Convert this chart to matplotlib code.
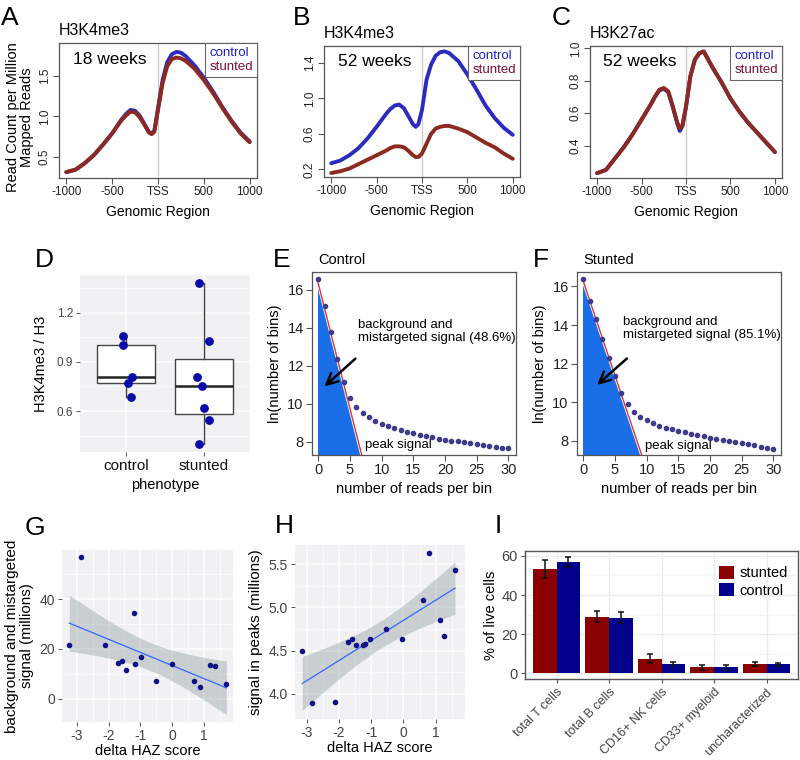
import numpy as np
import matplotlib
matplotlib.use("Agg")
import matplotlib.pyplot as plt
from matplotlib.lines import Line2D

plt.rcParams['font.family'] = ['Liberation Sans', 'DejaVu Sans']

# ---------------- data ----------------
# A-C: average profiles around the TSS
pos = [-1000, -900, -800, -700, -600, -500, -400, -350, -300, -250, -200, -150, -100, -70, -40,
       0, 50, 100, 150, 200, 250, 300, 400, 500, 600, 700, 800, 900, 1000]

a_control = [0.31, 0.34, 0.42, 0.52, 0.65, 0.79, 0.96, 1.03, 1.08, 1.07, 1.01, 0.91, 0.81, 0.79, 0.82,
             1.10, 1.45, 1.67, 1.77, 1.80, 1.79, 1.75, 1.63, 1.48, 1.31, 1.12, 0.95, 0.80, 0.69]
a_stunted = [0.31, 0.34, 0.42, 0.52, 0.65, 0.79, 0.95, 1.01, 1.06, 1.05, 0.99, 0.90, 0.80, 0.78, 0.81,
             1.08, 1.41, 1.62, 1.71, 1.73, 1.72, 1.69, 1.59, 1.45, 1.29, 1.11, 0.94, 0.79, 0.68]

b_control = [0.27, 0.30, 0.36, 0.44, 0.55, 0.68, 0.82, 0.88, 0.92, 0.93, 0.89, 0.80, 0.71, 0.68, 0.71,
             0.87, 1.21, 1.38, 1.48, 1.52, 1.53, 1.51, 1.42, 1.27, 1.10, 0.92, 0.78, 0.67, 0.59]
b_stunted = [0.16, 0.18, 0.21, 0.26, 0.31, 0.36, 0.41, 0.44, 0.46, 0.46, 0.45, 0.41, 0.36, 0.34, 0.34,
             0.38, 0.49, 0.60, 0.66, 0.68, 0.69, 0.69, 0.66, 0.62, 0.56, 0.50, 0.45, 0.38, 0.32]

c_control = [0.23, 0.25, 0.32, 0.39, 0.47, 0.56, 0.65, 0.70, 0.74, 0.75, 0.73, 0.64, 0.54, 0.49, 0.52,
             0.64, 0.83, 0.93, 0.97, 0.98, 0.93, 0.88, 0.79, 0.69, 0.61, 0.54, 0.48, 0.42, 0.36]
c_stunted = [0.23, 0.25, 0.32, 0.39, 0.47, 0.56, 0.65, 0.70, 0.745, 0.755, 0.735, 0.645, 0.545, 0.505, 0.525,
             0.64, 0.83, 0.93, 0.97, 0.98, 0.93, 0.88, 0.79, 0.69, 0.61, 0.54, 0.48, 0.42, 0.36]

# D: H3K4me3 / H3 per sample
phenotypes = ['control', 'stunted']
d_control = [1.057, 1.00, 0.81, 0.77, 0.685]
d_control_jit = [-0.043, -0.043, 0.077, 0.017, 0.06]
d_stunted = [1.384, 1.029, 0.808, 0.753, 0.62, 0.545, 0.40]
d_stunted_jit = [-0.064, 0.072, -0.082, -0.018, 0.004, 0.068, -0.064]

# E-F: ln(number of bins) vs reads per bin
reads = list(range(31))
e_lnbins = [16.56, 15.16, 13.76, 12.37, 11.13, 10.28, 9.81, 9.53, 9.28, 9.09, 8.95, 8.83, 8.70,
            8.62, 8.53, 8.44, 8.37, 8.30, 8.23, 8.16, 8.11, 8.05, 8.02, 7.98, 7.95, 7.89, 7.84,
            7.79, 7.74, 7.67, 7.68]
f_lnbins = [16.40, 15.26, 14.31, 13.28, 12.28, 11.36, 10.48, 9.89, 9.49, 9.25, 9.06, 8.92, 8.78,
            8.68, 8.59, 8.50, 8.44, 8.35, 8.28, 8.23, 8.16, 8.09, 8.04, 7.98, 7.95, 7.88, 7.83,
            7.76, 7.69, 7.62, 7.58]
e_fit = (16.31, -1.316)   # intercept, slope of background line
f_fit = (16.26, -0.977)

# G-H: signal vs delta HAZ
g_haz = [-2.875, -3.24, -2.12, -1.72, -1.58, -1.45, -1.21, -1.17, -0.98, -0.50, 0.0, 0.69, 0.87,
         1.21, 1.36, 1.71]
g_bg = [56.8, 21.4, 21.7, 14.5, 15.0, 11.3, 34.5, 14.1, 16.6, 7.0, 13.8, 7.1, 4.6, 13.7, 12.9, 5.8]
h_haz = [-3.135, -2.83, -2.11, -1.72, -1.60, -1.46, -1.25, -1.18, -1.02, -0.55, -0.05, 0.62, 0.80,
         1.13, 1.25, 1.60]
h_peak = [4.49, 3.89, 3.91, 4.60, 4.63, 4.57, 4.57, 4.575, 4.63, 4.75, 4.63, 5.09, 5.63, 4.85,
          4.67, 5.43]

# I: cell composition
cell_types = ['total T cells', 'total B cells', 'CD16+ NK cells', 'CD33+ myeloid', 'uncharacterized']
i_stunted = [53.1, 29.0, 7.6, 3.2, 4.9]
i_stunted_err = [4.6, 3.0, 2.4, 1.3, 0.9]
i_control = [56.9, 28.5, 4.8, 3.2, 4.6]
i_control_err = [2.7, 3.0, 1.0, 1.2, 0.95]

# ---------------- layout helpers ----------------
W, H = 800, 760
fig = plt.figure(figsize=(8, 7.6), dpi=100)


def add_ax(x0, y0, x1, y1):
    return fig.add_axes([x0 / W, 1 - y1 / H, (x1 - x0) / W, (y1 - y0) / H])


def letter(x, y, s):
    fig.text(x / W, 1 - y / H, s, fontsize=19, va='baseline', ha='left')


def r_style(ax, size=8.5):
    for s in ax.spines.values():
        s.set_color('#555555')
        s.set_linewidth(0.9)
    ax.tick_params(direction='out', length=4, width=0.8, color='#555555',
                   labelsize=size, labelcolor='#222222', pad=2)


def gg_style(ax, size=8.5):
    ax.set_facecolor('#F1F1F4')
    for s in ax.spines.values():
        s.set_visible(False)
    ax.grid(True, which='major', color='white', lw=1.1)
    ax.grid(True, which='minor', color='white', lw=0.5)
    ax.set_axisbelow(True)
    ax.tick_params(which='major', direction='out', length=3, width=0.7, color='#555555',
                   labelsize=size, labelcolor='#444444', pad=2)
    ax.tick_params(which='minor', length=0)


BLUE = '#2b2bc0'
RED = '#8c2a20'

# ---------------- A-C ----------------
profiles = [
    ((59, 43, 257, 178), a_control, a_stunted, 'H3K4me3', '18 weeks', (0.237, 1.91), [0.5, 1.0, 1.5]),
    ((324, 46, 520, 177), b_control, b_stunted, 'H3K4me3', '52 weeks', (0.115, 1.59), [0.2, 0.6, 1.0, 1.4]),
    ((590, 46, 782, 178), c_control, c_stunted, 'H3K27ac', '52 weeks', (0.20, 1.014), [0.4, 0.6, 0.8, 1.0]),
]
for rect, ctl, stn, title, weeks, ylim, yt in profiles:
    ax = add_ax(*rect)
    r_style(ax)
    ax.axvline(0, color='#cccccc', lw=0.9, zorder=1)
    ax.plot(pos, ctl, color=BLUE, lw=2.8, solid_capstyle='round', solid_joinstyle='round', zorder=2)
    ax.plot(pos, stn, color=RED, lw=2.8, solid_capstyle='round', solid_joinstyle='round', zorder=3)
    ax.set_xlim(-1080, 1080)
    ax.set_ylim(*ylim)
    ax.set_xticks([-1000, -500, 0, 500, 1000])
    ax.set_xticklabels(['-1000', '-500', 'TSS', '500', '1000'])
    ax.set_yticks(yt)
    ax.set_yticklabels([f'{v:.1f}' for v in yt], rotation=90, va='center')
    ax.set_xlabel('Genomic Region', fontsize=10, labelpad=5)
    ax.text(0.0, 1.04, title, transform=ax.transAxes, fontsize=11.5, ha='left', va='bottom')
    ax.text(0.07, 0.88, weeks, transform=ax.transAxes, fontsize=12.5, ha='left', va='center')
    handles = [Line2D([], [], color='none'), Line2D([], [], color='none')]
    leg = ax.legend(handles, ['control', 'stunted'], loc='upper right', borderaxespad=0,
                    handlelength=0, handletextpad=0, fontsize=9.5, fancybox=False,
                    edgecolor='#666666', framealpha=1, borderpad=0.3, labelspacing=0.15,
                    labelcolor=['#2020c0', '#7a1030'])
    leg.get_frame().set_linewidth(0.8)

fig.text(20 / W, 1 - 117 / H, 'Read Count per Million\nMapped Reads', rotation=90,
         ha='center', va='center', fontsize=10.5, linespacing=1.05)
letter(1, 25, 'A')
letter(293, 25, 'B')
letter(552, 25, 'C')

# ---------------- D ----------------
axD = add_ax(80, 275, 250, 452)
gg_style(axD)
axD.boxplot([d_control, d_stunted], positions=[1, 2], widths=0.75, patch_artist=True,
            showcaps=False, showfliers=False,
            boxprops=dict(facecolor='white', edgecolor='#444444', lw=1.0),
            medianprops=dict(color='#222222', lw=1.8),
            whiskerprops=dict(color='#444444', lw=1.0), zorder=2)
axD.scatter(1 + np.array(d_control_jit), d_control, s=28, color='#0a0aa8', zorder=3)
axD.scatter(2 + np.array(d_stunted_jit), d_stunted, s=28, color='#0a0aa8', zorder=3)
axD.set_xlim(0.4, 2.6)
axD.set_ylim(0.35, 1.43)
axD.set_yticks([0.6, 0.9, 1.2])
axD.set_yticklabels(['0.6', '0.9', '1.2'])
axD.set_yticks([0.45, 0.75, 1.05, 1.35], minor=True)
axD.set_xticks([1, 2])
axD.set_xticklabels(phenotypes, fontsize=11, color='#111111')
axD.set_xlabel('phenotype', fontsize=10.5, labelpad=4)
axD.set_ylabel('H3K4me3 / H3', fontsize=10.5, labelpad=6)
letter(35, 267, 'D')

# ---------------- E-F ----------------
ef = [
    ((312, 272, 516, 455), e_lnbins, e_fit, (7.3, 16.93), 'Control', '48.6%',
     (6.2, 13.8), (6.18, 12.47), (0.64, 10.81), (7.3, 7.83)),
    ((577, 272, 781, 455), f_lnbins, f_fit, (7.26, 16.75), 'Stunted', '85.1%',
     (6.32, 13.8), (7.2, 12.36), (1.85, 10.8), (9.7, 7.74)),
]
for rect, lnb, fit, ylim, title, pct, txt, tail, head, peak in ef:
    ax = add_ax(*rect)
    r_style(ax, size=10.5)
    ax.set_xlim(-1.0, 31.2)
    ax.set_ylim(*ylim)
    b0, b1 = fit
    x0 = -0.12
    x_end = (ylim[0] - b0) / b1
    ax.fill([x0, x0, x_end], [b0 + b1 * x0, ylim[0], ylim[0]], color='#1a6fe8', lw=0, zorder=1)
    ax.plot([x0, x_end], [b0 + b1 * x0, ylim[0]], color='white', lw=2.2, zorder=2)
    ax.plot([x0, x_end], [b0 + b1 * x0, ylim[0]], color='#d9363a', lw=1.0, zorder=3)
    ax.scatter(reads, lnb, s=9, color='#3f3a8c', zorder=4)
    ax.set_xticks([0, 5, 10, 15, 20, 25, 30])
    ax.set_yticks([8, 10, 12, 14, 16])
    ax.set_xlabel('number of reads per bin', fontsize=10.5, labelpad=3)
    ax.set_ylabel('ln(number of bins)', fontsize=10.5, labelpad=4)
    ax.text(0.03, 1.03, title, transform=ax.transAxes, fontsize=10.5, ha='left', va='bottom')
    ax.text(txt[0], txt[1], f'background and\nmistargeted signal ({pct})', fontsize=9.5,
            ha='left', va='center', linespacing=1.1)
    ax.annotate('', xy=head, xytext=tail,
                arrowprops=dict(arrowstyle='->', lw=1.8, color='black', mutation_scale=20))
    ax.text(peak[0], peak[1], 'peak signal', fontsize=9.5, ha='left', va='center')
letter(273, 267, 'E')
letter(533, 267, 'F')


# ---------------- G-H ----------------
def fit_band(x, y, t=2.145):
    x = np.asarray(x)
    y = np.asarray(y)
    n = len(x)
    b1, b0 = np.polyfit(x, y, 1)
    xs = np.linspace(x.min(), x.max(), 100)
    resid = y - (b0 + b1 * x)
    s = np.sqrt(np.sum(resid ** 2) / (n - 2))
    se = s * np.sqrt(1 / n + (xs - x.mean()) ** 2 / np.sum((x - x.mean()) ** 2))
    yhat = b0 + b1 * xs
    return xs, yhat, yhat - t * se, yhat + t * se


gh = [
    ((62, 550, 233, 722), g_haz, g_bg, (-3.47, 1.92), (-9.4, 59.7), [0, 20, 40], [10, 30, 50],
     'background and mistargeted\nsignal (millions)'),
    ((295, 545, 465, 719), h_haz, h_peak, (-3.36, 1.91), (3.71, 5.72), [4.0, 4.5, 5.0, 5.5],
     [4.25, 4.75, 5.25], 'signal in peaks (millions)'),
]
for rect, hx, hy, xlim, ylim, yt, ytm, ylab in gh:
    ax = add_ax(*rect)
    gg_style(ax, size=10)
    ax.set_xlim(*xlim)
    ax.set_ylim(*ylim)
    ax.set_xticks([-3, -2, -1, 0, 1])
    ax.set_xticklabels(['-3', '-2', '-1', '0', '1'])
    ax.set_xticks([-2.5, -1.5, -0.5, 0.5, 1.5], minor=True)
    ax.set_yticks(yt)
    ax.set_yticks(ytm, minor=True)
    if isinstance(yt[0], float):
        ax.set_yticklabels([f'{v:.1f}' for v in yt])
    xs, yhat, lo, hi = fit_band(hx, hy)
    ax.fill_between(xs, lo, hi, color='#9aa6a6', alpha=0.45, lw=0, zorder=2)
    ax.plot(xs, yhat, color='#3366FF', lw=0.9, zorder=3)
    ax.scatter(hx, hy, s=9, color='#10108a', zorder=4)
    ax.set_xlabel('delta HAZ score', fontsize=10.5, labelpad=1)
    ax.set_ylabel(ylab, fontsize=11, labelpad=4, linespacing=1.05)
letter(25, 535, 'G')
letter(275, 533, 'H')

# ---------------- I ----------------
axI = add_ax(525, 551, 798, 679)
axI.set_facecolor('white')
for s in axI.spines.values():
    s.set_color('#555555')
    s.set_linewidth(1.0)
axI.grid(True, which='major', color='#EBEBEB', lw=0.9)
axI.grid(True, which='minor', color='#F2F2F2', lw=0.5)
axI.set_axisbelow(True)
xi = np.arange(len(cell_types))
bw = 0.45
axI.bar(xi - bw / 2, i_stunted, width=bw, color='#8b0000', label='stunted', zorder=2)
axI.bar(xi + bw / 2, i_control, width=bw, color='#00008b', label='control', zorder=2)
axI.errorbar(xi - bw / 2, i_stunted, yerr=i_stunted_err, fmt='none', ecolor='#111111',
             elinewidth=1.1, capsize=2.5, capthick=1.1, zorder=3)
axI.errorbar(xi + bw / 2, i_control, yerr=i_control_err, fmt='none', ecolor='#111111',
             elinewidth=1.1, capsize=2.5, capthick=1.1, zorder=3)
axI.set_xlim(-0.6, 4.6)
axI.set_ylim(-2.85, 62.5)
axI.set_yticks([0, 20, 40, 60])
axI.set_yticks([10, 30, 50], minor=True)
axI.set_xticks(xi)
axI.set_xticklabels(cell_types, rotation=45, ha='right', rotation_mode='anchor')
axI.tick_params(which='major', direction='out', length=3, width=0.8, color='#555555',
                labelsize=9, labelcolor='#444444', pad=2)
axI.tick_params(axis='y', labelsize=10.5)
axI.tick_params(which='minor', length=0)
axI.set_ylabel('% of live cells', fontsize=10.5, labelpad=3)
axI.legend(loc='upper right', bbox_to_anchor=(0.985, 0.93), frameon=False, fontsize=10.5,
           handlelength=1.0, handleheight=1.0, handletextpad=0.4, labelspacing=0.2,
           borderaxespad=0)
letter(495, 533, 'I')

fig.savefig('out.png', dpi=100)
